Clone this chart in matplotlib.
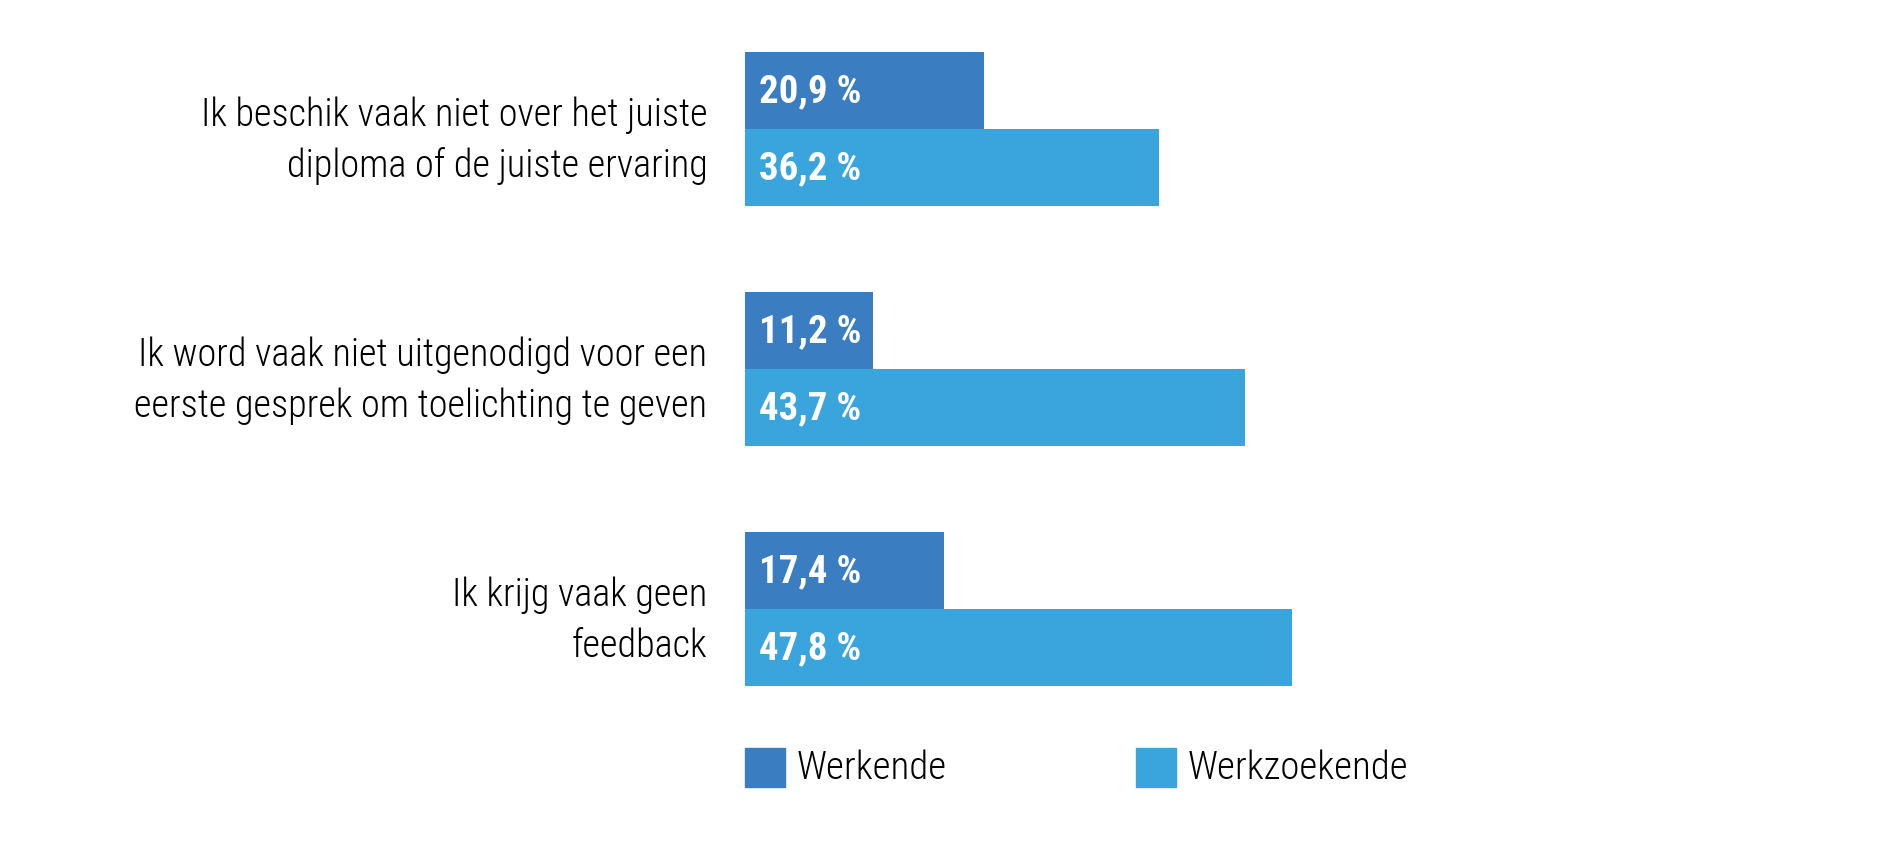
import matplotlib.pyplot as plt
from matplotlib import font_manager
from matplotlib.patches import Rectangle

categories = [
    "Ik beschik vaak niet over het juiste\ndiploma of de juiste ervaring",
    "Ik word vaak niet uitgenodigd voor een\neerste gesprek om toelichting te geven",
    "Ik krijg vaak geen\nfeedback",
]
werkende = [20.9, 11.2, 17.4]
werkzoekende = [36.2, 43.7, 47.8]
series_names = ["Werkende", "Werkzoekende"]

col_dark = "#3a7dc0"
col_light = "#3aa5dc"

# pick a condensed family that is installed
names = {f.name for f in font_manager.fontManager.ttflist}
narrow = "DejaVu Sans"
for cand in ["Roboto Condensed", "Archivo Narrow", "PT Sans Narrow", "Barlow Semi Condensed",
             "Sofia Sans Condensed", "Asap Condensed", "Saira SemiCondensed"]:
    if cand in names:
        narrow = cand
        break

W, H = 1895, 845
fig = plt.figure(figsize=(W / 100, H / 100), dpi=100)
# axes placed in pixel terms: bars start at x=745, 11.45 px per %
ax = fig.add_axes([745 / W, 0, 1145 / W, 1])
ax.set_xlim(0, 100)
ax.set_ylim((845 - 130) / 240, -130 / 240)

pos = list(range(len(categories)))
bh = 0.32
ax.barh([p - bh / 2 for p in pos], werkende, height=bh, color=col_dark)
ax.barh([p + bh / 2 for p in pos], werkzoekende, height=bh, color=col_light)

for p, a, b in zip(pos, werkende, werkzoekende):
    for y, v in ((p - bh / 2, a), (p + bh / 2, b)):
        ax.text(1.2, y, f"{v:.1f} %".replace(".", ","), va="center", ha="left",
                color="white", fontsize=28, fontweight="bold", family=narrow)

ax.set_yticks(pos, categories)
ax.tick_params(axis="y", length=0, pad=27)
for lbl in ax.get_yticklabels():
    lbl.set_fontfamily(narrow)
    lbl.set_fontweight("light")
    lbl.set_fontsize(27.5)
    lbl.set_linespacing(1.45)
ax.set_xticks([])
for s in ax.spines.values():
    s.set_visible(False)

# legend, drawn by hand
for x0, c, name in ((745, col_dark, series_names[0]), (1136, col_light, series_names[1])):
    fig.add_artist(Rectangle((x0 / W, 1 - 788 / H), 40 / W, 39 / H, color=c,
                             transform=fig.transFigure))
    fig.text((x0 + 52) / W, 1 - 768 / H, name, va="center", ha="left",
             fontsize=28, fontweight="light", family=narrow)

fig.savefig("out.png", dpi=100)
